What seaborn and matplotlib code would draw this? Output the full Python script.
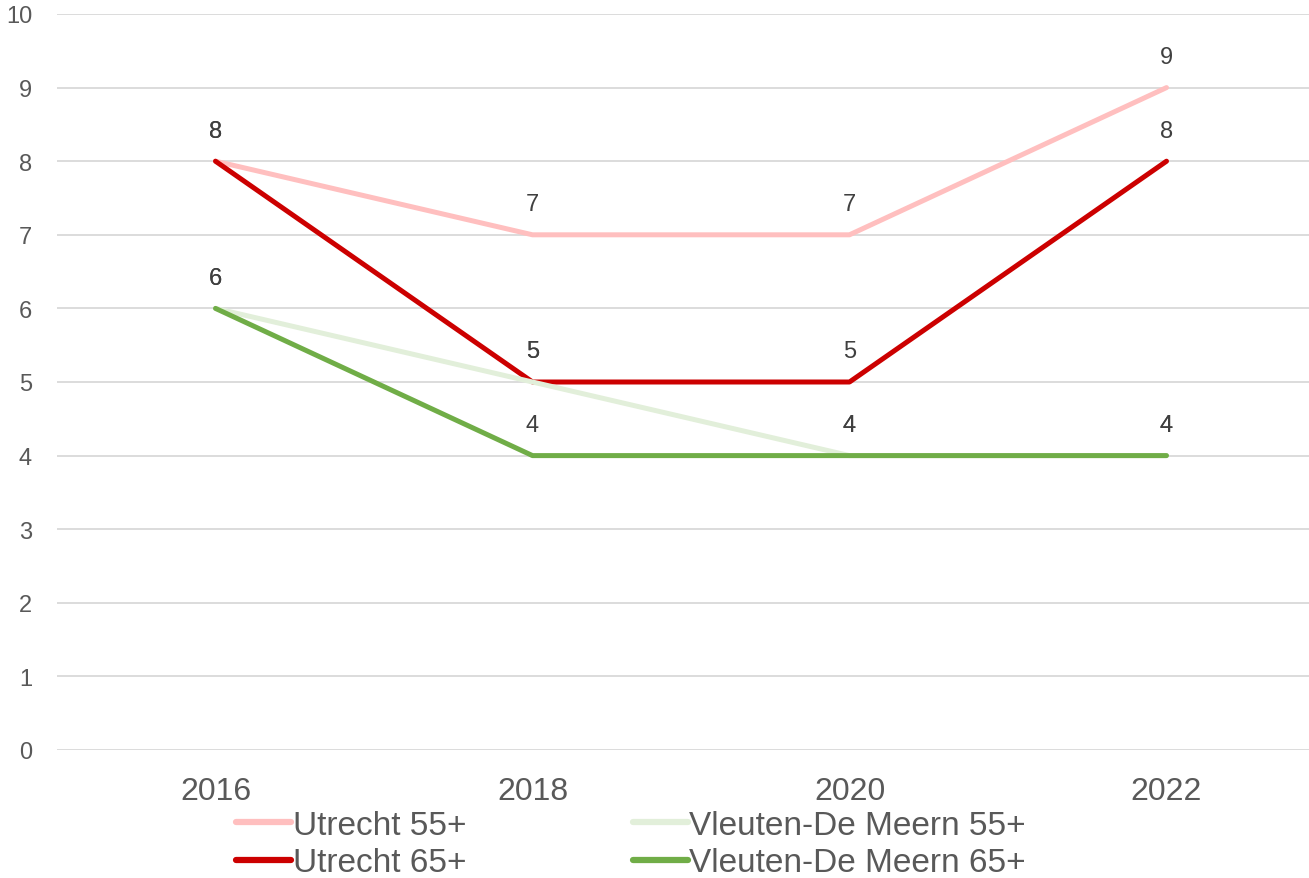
import matplotlib
matplotlib.use("Agg")
import matplotlib.pyplot as plt
import pandas as pd
import seaborn as sns

years = [2016, 2018, 2020, 2022]
utrecht_55 = [8, 7, 7, 9]
utrecht_65 = [8, 5, 5, 8]
vleuten_55 = [6, 5, 4, 4]
vleuten_65 = [6, 4, 4, 4]

series_names = ["Utrecht 55+", "Utrecht 65+", "Vleuten-De Meern 55+", "Vleuten-De Meern 65+"]
series_values = [utrecht_55, utrecht_65, vleuten_55, vleuten_65]
palette = {
    "Utrecht 55+": "#FFBFBF",
    "Utrecht 65+": "#CC0000",
    "Vleuten-De Meern 55+": "#E2EFDA",
    "Vleuten-De Meern 65+": "#70AD47",
}

rows = []
for name, vals in zip(series_names, series_values):
    for yr, v in zip(years, vals):
        rows.append({"jaar": yr, "waarde": v, "reeks": name})
df = pd.DataFrame(rows)

sns.set_style("white")
plt.rcParams["font.family"] = ["Liberation Sans", "DejaVu Sans"]

fig = plt.figure(figsize=(13.09, 8.79), dpi=100)
ax = fig.add_axes([57 / 1309, 1 - 751 / 879, (1325 - 57) / 1309, 736 / 879])

sns.lineplot(data=df, x="jaar", y="waarde", hue="reeks", hue_order=series_names,
             palette=palette, linewidth=3.6, ax=ax, legend=True,
             solid_capstyle="round")

for name, vals in zip(series_names, series_values):
    for yr, v in zip(years, vals):
        ax.annotate(str(v), (yr, v), xytext=(0, 22), textcoords="offset points",
                    ha="center", va="center", fontsize=17, color="#404040")

ax.set_xlim(2015, 2023)
ax.set_ylim(0, 10)
ax.set_xticks(years)
ax.set_xticklabels([str(y) for y in years])
ax.set_yticks(range(0, 11))
ax.tick_params(axis="x", labelsize=23, colors="#595959", length=0, pad=19)
ax.tick_params(axis="y", labelsize=17, colors="#595959", length=0, pad=18)
ax.yaxis.grid(True, color="#D9D9D9", linewidth=1.3)
ax.set_axisbelow(True)
for s in ax.spines.values():
    s.set_visible(False)
ax.set_xlabel("")
ax.set_ylabel("")

handles, labels = ax.get_legend_handles_labels()
leg = ax.legend(handles, labels, ncol=2, loc="center",
                bbox_to_anchor=(0.482, 0.0385),
                bbox_transform=fig.transFigure, frameon=False, fontsize=24,
                handlelength=1.65, handletextpad=0.05, columnspacing=5.0,
                labelspacing=0.2, borderpad=0)
for t in leg.get_texts():
    t.set_color("#595959")
for h in leg.get_lines():
    h.set_linewidth(4.5)

fig.savefig("out.png", dpi=100)
